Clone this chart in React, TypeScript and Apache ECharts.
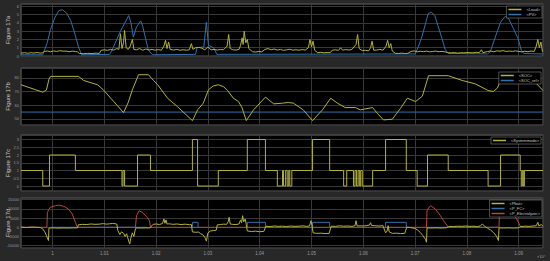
import React, { useEffect, useRef } from 'react';
import * as echarts from 'echarts';

// ---------- time axis (seconds; labels are shown x10^4) ----------
const X_MIN = 9939;
const X_MAX = 10947;
const X_STEP = 100;

// ---------- Figure 17a : Load & PV ----------
const LOAD: number[][] = [
  [9939,0.35],[9946,0.4],[9952,0.33],[9958,0.4],[9964,0.36],[9970,0.42],[9976,0.35],[9981,0.4],[9984,0.55],[9990,0.6],[9996,0.52],[10002,0.62],[10008,0.55],[10014,0.65],[10020,0.58],[10026,0.6],[10032,0.52],[10038,0.58],[10044,0.55],[10048,0.5],[10052,0.3],[10060,0.28],[10068,0.32],[10076,0.3],[10084,0.35],[10090,0.3],[10094,0.7],[10100,0.75],[10106,0.68],[10112,0.8],[10118,0.72],[10124,0.9],[10128,0.8],[10131,2.7],[10134,0.9],[10137,1.6],[10139,3.1],[10142,1.0],[10146,0.8],[10150,1.2],[10154,2.0],[10157,0.8],[10162,0.75],[10168,0.9],[10174,0.7],[10180,0.85],[10186,0.72],[10192,0.8],[10198,0.7],[10204,0.78],[10210,0.7],[10215,1.2],[10218,1.9],[10221,0.9],[10224,1.7],[10227,0.8],[10234,0.72],[10240,0.8],[10246,0.7],[10252,0.76],[10258,0.7],[10264,0.75],[10268,1.5],[10271,0.8],[10276,1.0],[10282,1.05],[10288,0.95],[10294,0.75],[10300,1.1],[10306,0.75],[10312,0.8],[10318,0.72],[10324,0.8],[10330,0.75],[10337,1.2],[10340,2.6],[10343,0.9],[10348,0.75],[10354,0.72],[10360,0.8],[10363,1.3],[10366,2.2],[10368,1.4],[10370,3.0],[10373,1.6],[10376,2.0],[10379,0.9],[10386,0.52],[10392,0.48],[10398,0.55],[10404,0.5],[10410,0.8],[10416,0.9],[10422,0.75],[10428,0.85],[10434,0.72],[10440,0.8],[10446,0.68],[10452,0.75],[10458,0.82],[10464,0.7],[10470,0.76],[10476,0.7],[10482,0.78],[10488,0.72],[10494,1.0],[10497,2.0],[10500,1.1],[10503,1.8],[10506,0.7],[10512,0.4],[10518,0.45],[10524,0.38],[10530,0.42],[10536,0.4],[10540,0.7],[10546,0.75],[10552,0.68],[10556,1.0],[10560,0.7],[10566,0.78],[10572,0.72],[10578,0.8],[10586,1.4],[10589,2.6],[10592,0.9],[10598,0.65],[10604,0.7],[10610,0.62],[10614,1.0],[10617,1.8],[10620,0.7],[10626,0.72],[10632,0.8],[10638,0.7],[10644,1.2],[10647,1.9],[10650,1.0],[10653,1.5],[10656,0.6],[10662,0.32],[10668,0.3],[10674,0.35],[10680,0.3],[10686,0.33],[10692,0.55],[10698,0.62],[10704,0.5],[10710,0.58],[10716,0.52],[10722,0.6],[10728,0.5],[10734,0.55],[10740,0.6],[10746,0.52],[10752,0.56],[10758,0.5],[10764,0.4],[10770,0.38],[10776,0.42],[10782,0.35],[10788,0.4],[10794,0.38],[10800,0.42],[10806,0.4],[10812,0.38],[10818,0.45],[10824,0.4],[10828,0.75],[10831,0.4],[10840,0.55],[10846,0.6],[10852,0.52],[10858,0.62],[10864,0.58],[10870,0.65],[10876,0.55],[10882,0.6],[10888,0.56],[10894,0.62],[10900,0.55],[10906,0.5],[10912,0.58],[10918,0.52],[10924,0.6],[10930,0.55],[10934,1.2],[10937,2.0],[10940,1.0],[10943,1.7],[10946,0.5],[10947,0.45]
];
const PV: number[][] = [
  [9939,0.15],[9981,0.15],[9989,1.5],[9996,3.2],[10004,4.6],[10012,5.5],[10019,5.6],[10027,5.2],[10035,4.3],[10042,2.9],[10050,1.1],[10056,0.15],
  [10110,0.2],[10114,0.6],[10131,3.0],[10147,4.9],[10151,4.1],[10156,2.3],[10162,3.5],[10170,4.25],[10174,3.6],[10180,2.0],[10185,0.7],[10193,0.15],
  [10276,0.2],[10279,1.0],[10292,1.1],[10297,4.1],[10301,1.3],[10311,1.0],[10317,0.2],
  [10700,0.25],[10706,1.1],[10713,2.3],[10720,3.9],[10725,5.1],[10731,5.34],[10738,4.9],[10744,3.7],[10752,2.1],[10758,0.8],[10764,0.3],
  [10840,0.25],[10845,0.5],[10855,2.3],[10865,4.1],[10874,4.8],[10881,4.5],[10890,3.3],[10899,2.1],[10905,0.7],[10910,0.3],[10947,0.25]
];
const A_TICKS = { min: 0, max: 6.3, step: 1 };

// ---------- Figure 17b : SOC ----------
const SOC: number[][] = [
  [9939,74.9],[9981,69.5],[9988,71],[9993,79],[9996,81],[10050,81],[10060,78],[10087,74.9],[10098,71.2],[10118,62.7],[10137,54.6],[10146,62],[10154,71.2],[10166,82.2],[10185,82.2],[10195,78],[10203,74.9],[10222,65.1],[10241,59],[10270,48.8],[10280,56.6],[10291,61.5],[10301,71.2],[10310,74],[10320,74.9],[10330,73.5],[10338,70.7],[10349,65.1],[10359,62.7],[10366,58],[10374,48.8],[10388,56.6],[10411,65.9],[10427,61],[10444,61.5],[10455,62],[10465,61.5],[10484,56.6],[10502,48.8],[10521,56.6],[10537,65.1],[10550,61.5],[10565,58.3],[10585,58.3],[10594,56.6],[10618,58.3],[10627,54.1],[10639,49.3],[10656,49.8],[10672,57.8],[10685,65.1],[10701,62.7],[10714,66.6],[10726,81.5],[10764,81.5],[10791,78],[10816,75.6],[10841,70.7],[10851,70],[10859,72.5],[10869,81.5],[10919,81.5],[10928,78.3],[10947,70.7]
];
const SOC_REF: number[][] = [[9939,55],[10947,55]];
const B_TICKS = { min: 45.6, max: 87.1, step: 10 };

// ---------- Figure 17c : system mode (change points) ----------
const MODE_CHANGES: number[][] = [
  [9939,1],[9981,0],[9994,2],[10044,1],[10134,0],[10136,1],[10139,0],[10164,2],[10189,1],[10270,3],[10280,0],[10320,1],[10376,3],[10411,1],
  [10434,0],[10444,1],[10446,0],[10450,1],[10453,0],[10456,1],[10458,0],[10462,1],[10502,3],[10535,1],
  [10562,0],[10568,1],[10581,0],[10584,1],[10587,0],[10590,1],[10593,0],[10595,1],[10598,0],[10618,1],[10643,3],[10683,1],
  [10704,0],[10724,2],[10764,1],[10841,0],[10865,2],[10903,1],[10905,0],[10907,1],[10909,0],[10911,1]
];
const C_TICKS = { min: -0.32, max: 3.29, step: 0.5 };

// ---------- Figure 17d : powers ----------
const PBAT: number[][] = [
  [9939,100],[9950,-100],[9960,150],[9970,0],[9977,-200],[9981,-900],[9985,-2500],[9988,-4500],[9992,-7200],[9993,-400],[10000,-300],[10010,-450],[10020,-350],[10030,-400],[10040,-300],[10048,-350],[10050,1400],[10058,1600],[10066,1500],[10074,1800],[10082,1600],[10090,1700],[10098,2000],[10104,1700],[10110,1900],[10116,2100],[10124,1800],[10126,-1800],[10130,-4000],[10133,-2500],[10137,-3200],[10140,-5000],[10143,-3500],[10147,-7500],[10149,-9000],[10151,-6000],[10154,-3000],[10157,-5000],[10159,-2000],[10161,-300],[10170,-400],[10180,-300],[10188,-350],[10194,1600],[10200,1800],[10206,1500],[10212,2000],[10215,4500],[10217,2200],[10219,4000],[10221,1800],[10226,1900],[10232,1600],[10240,1800],[10248,1500],[10256,1700],[10264,1400],[10268,1500],[10270,-2500],[10276,-2700],[10282,-2600],[10286,-3500],[10290,-4000],[10294,-5500],[10297,-7500],[10300,-3000],[10305,-2000],[10310,-1800],[10316,-1600],[10318,1300],[10324,1500],[10330,1700],[10336,1600],[10339,3000],[10341,5400],[10343,1800],[10348,1600],[10354,1500],[10360,1800],[10363,4000],[10365,2500],[10367,6300],[10369,3000],[10372,4500],[10374,1500],[10376,-2000],[10384,-2300],[10392,-2100],[10400,-2400],[10408,-2200],[10412,600],[10420,400],[10428,700],[10436,500],[10444,600],[10452,400],[10460,700],[10468,500],[10476,600],[10484,800],[10490,500],[10496,700],[10499,3600],[10501,800],[10503,-3000],[10510,-3300],[10518,-3200],[10526,-3400],[10534,-3300],[10538,600],[10546,500],[10554,800],[10562,600],[10570,700],[10578,500],[10584,900],[10586,3600],[10588,700],[10594,800],[10600,700],[10606,900],[10612,1200],[10614,2500],[10616,1000],[10622,900],[10630,700],[10638,900],[10643,-3000],[10646,-2000],[10648,900],[10650,-2500],[10656,-3300],[10664,-3200],[10672,-3400],[10680,-3300],[10684,100],[10692,-200],[10700,-600],[10705,-1500],[10710,-2800],[10715,-4500],[10720,-6500],[10722,-8100],[10723,-300],[10730,-400],[10740,-300],[10750,-400],[10760,-300],[10766,500],[10774,400],[10782,600],[10790,500],[10798,700],[10806,500],[10814,600],[10820,300],[10826,800],[10830,1800],[10834,600],[10840,-500],[10846,-1500],[10852,-3000],[10857,-4800],[10861,-7200],[10862,-300],[10870,-400],[10880,-300],[10890,-400],[10900,-300],[10904,400],[10912,600],[10920,500],[10928,700],[10934,900],[10937,2700],[10939,800],[10944,1500],[10947,500]
];
const P_ELY: number[][] = [
  [9939,0],[9989,0],[9990,8100],[9993,9800],[9996,11000],[10006,11800],[10012,12000],[10022,11400],[10031,9800],[10038,7200],[10044,2700],[10048,0],
  [10160,0],[10162,6300],[10167,9000],[10173,8100],[10183,5400],[10187,3600],[10189,0],
  [10722,0],[10723,9000],[10726,10500],[10730,11760],[10739,9950],[10749,6320],[10755,3600],[10762,905],[10764,0],
  [10862,0],[10863,8000],[10868,10500],[10874,10800],[10884,9000],[10894,5500],[10901,2000],[10904,0],[10947,0]
];
const FC_ZERO_SPANS: number[][] = [[9996,10183],[10723,10861]];
const FC_ON_SPANS: number[][] = [[10270,10281],[10376,10411],[10502,10535],[10643,10683]];
const FC_ON_LEVEL = 2700;
const D_TICKS = { min: -11250, max: 15920, step: 5000 };

const PANEL_TITLES = ['Figure 17a', 'Figure 17b', 'Figure 17c', 'Figure 17d'];

// ---------- builders ----------
function modeSteps(): (number | null)[][] {
  const out: number[][] = [];
  MODE_CHANGES.forEach(([t, v], i) => {
    if (i > 0) out.push([t, MODE_CHANGES[i - 1][1]]);
    out.push([t, v]);
  });
  out.push([X_MAX, MODE_CHANGES[MODE_CHANGES.length - 1][1]]);
  return out;
}
function fcData(): (number | null)[][] {
  const spans: { a: number; b: number; on: boolean }[] = [];
  FC_ZERO_SPANS.forEach(([a, b]) => spans.push({ a, b, on: false }));
  FC_ON_SPANS.forEach(([a, b]) => spans.push({ a, b, on: true }));
  spans.sort((p, q) => p.a - q.a);
  const out: (number | null)[][] = [];
  spans.forEach(({ a, b, on }) => {
    if (on) out.push([a, 0], [a, FC_ON_LEVEL], [b, FC_ON_LEVEL], [b, 0]);
    else out.push([a, 0], [b, 0]);
    out.push([b + 0.5, null]);
  });
  return out;
}

const YELLOW = '#b3b33a';
const BLUE = '#3371aa';
const RED = '#b8463a';
const FONT = 'Liberation Sans, Arial, sans-serif';

const PANELS = [
  { top: 4, height: 52, ticks: A_TICKS },
  { top: 68, height: 57, ticks: B_TICKS },
  { top: 135, height: 56, ticks: C_TICKS },
  { top: 198, height: 50, ticks: D_TICKS },
];

function isMultiple(v: number, s: number) {
  const r = v / s;
  return Math.abs(r - Math.round(r)) < 1e-6;
}

export default function App() {
  const ref = useRef<HTMLDivElement>(null);
  useEffect(() => {
    const chart = echarts.init(ref.current!, null, { renderer: 'svg' });
    const grids = PANELS.map((p) => ({
      left: 21, right: 7, top: p.top, height: p.height, show: true,
      backgroundColor: '#000000', borderColor: '#5a5a5a', borderWidth: 1,
    }));
    const xAxes = PANELS.map((p, i) => ({
      type: 'value', gridIndex: i, min: X_MIN, max: X_MAX,
      minInterval: X_STEP, maxInterval: X_STEP,
      axisLine: { show: false }, axisTick: { show: false },
      splitLine: { show: true, lineStyle: { color: '#383838', width: 1 } },
      axisLabel: {
        show: i === 3, color: '#9a9a9a', fontSize: 4.5, fontFamily: FONT, margin: 3,
        formatter: (v: number) => (isMultiple(v, X_STEP) ? (v === 10000 ? '1' : (v / 10000).toFixed(2)) : ''),
      },
    }));
    const yAxes = PANELS.map((p, i) => ({
      type: 'value', gridIndex: i, min: p.ticks.min, max: p.ticks.max,
      minInterval: p.ticks.step, maxInterval: p.ticks.step,
      axisLine: { show: false }, axisTick: { show: false },
      splitLine: { show: true, lineStyle: { color: '#383838', width: 1 } },
      axisLabel: {
        color: '#9a9a9a', fontSize: 4, fontFamily: FONT, margin: 2,
        formatter: (v: number) => (isMultiple(v, p.ticks.step) ? String(Math.round(v * 100) / 100) : ''),
      },
    }));
    const line = (name: string, data: any[], color: string, idx: number) => ({
      name, type: 'line', data, xAxisIndex: idx, yAxisIndex: idx, showSymbol: false, symbol: 'none',
      connectNulls: false, lineStyle: { color, width: 1 }, itemStyle: { color },
    });
    const legendBase = {
      orient: 'vertical', icon: 'rect', itemWidth: 13, itemHeight: 1.5, itemGap: 1,
      padding: [1.5, 2, 1.5, 2], backgroundColor: '#000000', borderColor: '#808080', borderWidth: 0.6,
      textStyle: { color: '#c8c8c8', fontSize: 4, fontFamily: FONT }, selectedMode: false,
    };
    const option: any = {
      animation: false,
      backgroundColor: '#282828',
      grid: grids,
      xAxis: xAxes,
      yAxis: yAxes,
      legend: [
        { ...legendBase, data: ['<Load>', '<PV>'], right: 8, top: 6 },
        { ...legendBase, data: ['<SOC>', '<SOC_ref>'], right: 9, top: 72 },
        { ...legendBase, data: ['<Systemmode>'], right: 9, top: 137 },
        { ...legendBase, data: ['<Pbat>', '<P_FC>', '<P_Electrolyzer>'], right: 8, top: 200 },
      ],
      series: [
        line('<PV>', PV, BLUE, 0),
        line('<Load>', LOAD, YELLOW, 0),
        line('<SOC_ref>', SOC_REF, BLUE, 1),
        line('<SOC>', SOC, YELLOW, 1),
        line('<Systemmode>', modeSteps(), YELLOW, 2),
        line('<P_Electrolyzer>', P_ELY, RED, 3),
        line('<P_FC>', fcData(), BLUE, 3),
        line('<Pbat>', PBAT, YELLOW, 3),
      ],
      graphic: [
        ...PANELS.map((p, i) => ({
          type: 'text', x: 8, y: p.top + p.height / 2, rotation: Math.PI / 2,
          style: { text: PANEL_TITLES[i], fill: '#c8c8c8', font: `6px ${FONT}`, textAlign: 'center', textVerticalAlign: 'middle' },
        })),
        { type: 'text', x: 537, y: 254, style: { text: '×10⁴', fill: '#9a9a9a', font: `4px ${FONT}` } },
      ],
    };
    chart.setOption(option);
    return () => chart.dispose();
  }, []);
  return <div ref={ref} style={{ position: 'fixed', left: 0, top: 0, width: 550, height: 261 }} />;
}
